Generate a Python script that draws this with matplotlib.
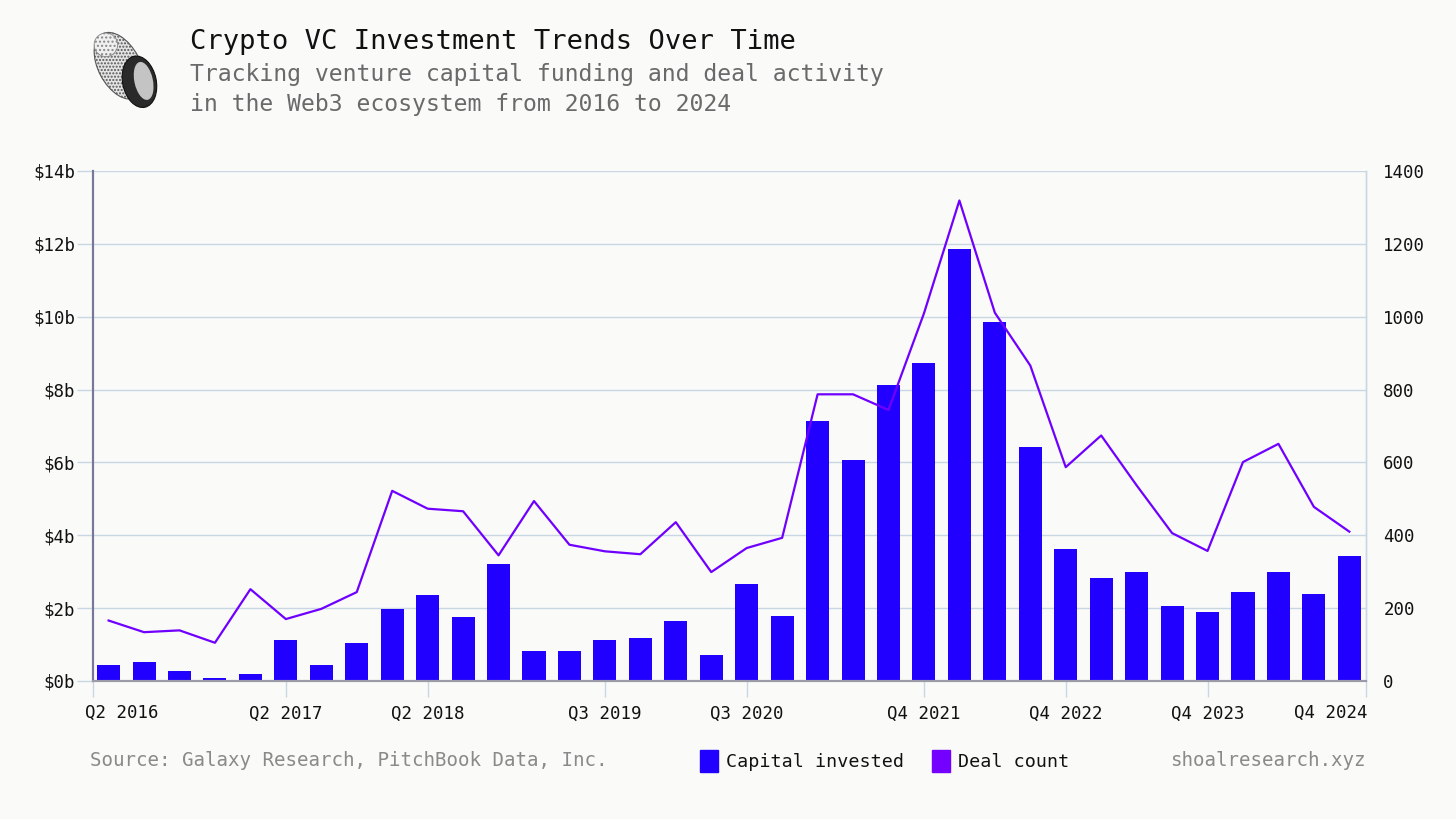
import numpy as np
import matplotlib
matplotlib.use("Agg")
import matplotlib.pyplot as plt
import matplotlib.patches as mpatches

# quarterly data, Q1 2016 .. Q4 2024
years = [2016, 2017, 2018, 2019, 2020, 2021, 2022, 2023, 2024]
quarters = [f"Q{q} {y}" for y in years for q in (1, 2, 3, 4)]

capital = [0.43, 0.51, 0.28, 0.09, 0.18, 1.13, 0.43, 1.05, 1.97, 2.35,
           1.75, 3.22, 0.81, 0.81, 1.13, 1.17, 1.65, 0.72, 2.67, 1.78,
           7.13, 6.08, 8.12, 8.72, 11.87, 9.86, 6.41, 3.63, 2.82, 2.98,
           2.07, 1.89, 2.45, 3.00, 2.40, 3.43]
deals = [166, 134, 139, 105, 252, 170, 198, 244, 522, 473,
         466, 345, 494, 374, 356, 348, 436, 299, 365, 393,
         787, 787, 744, 1009, 1319, 1011, 866, 587, 674, 537,
         406, 357, 601, 651, 478, 410]

tick_quarters = ["Q2 2017", "Q2 2018", "Q3 2019", "Q3 2020",
                 "Q4 2021", "Q4 2022", "Q4 2023"]
first_label = "Q2 2016"
last_label = "Q4 2024"

BG = "#fafaf8"
BAR = "#2200ff"
LINE = "#6f00ff"
GRID = "#c9d7e4"

plt.rcParams["font.family"] = ["DejaVu Sans Mono"]

fig = plt.figure(figsize=(14.56, 8.19), dpi=100)
fig.patch.set_facecolor(BG)

ax = fig.add_axes([93/1456, 138/819, (1366-93)/1456, (681-171)/819])
ax.set_facecolor(BG)
ax2 = ax.twinx()

x = np.arange(len(quarters))
ax.bar(x, capital, width=0.65, color=BAR, zorder=2)
ax2.plot(x, deals, color=LINE, lw=1.6, zorder=3)

xmin, xmax = -0.44, 35.47
ax.set_xlim(xmin, xmax)
ax.set_ylim(0, 14)
ax2.set_ylim(0, 1400)

ax.set_yticks(range(0, 15, 2))
ax.set_yticklabels([f"${v}b" for v in range(0, 15, 2)])
ax2.set_yticks(range(0, 1401, 200))
ax.grid(axis="y", color=GRID, lw=1, zorder=0)
ax.set_axisbelow(True)

# x ticks: edges get their own labels, drawn separately
tpos = [xmin] + [quarters.index(q) for q in tick_quarters] + [xmax]
ax.set_xticks(tpos)
ax.set_xticklabels([""] + tick_quarters + [""])
ax.annotate(first_label, xy=(xmin, 0), xycoords=ax.get_xaxis_transform(),
            xytext=(-8, -32), textcoords="offset pixels", ha="left",
            va="center", fontsize=12.5, color="#111111")
ax.annotate(last_label, xy=(xmax, 0), xycoords=ax.get_xaxis_transform(),
            xytext=(2, -32), textcoords="offset pixels", ha="right",
            va="center", fontsize=12.5, color="#111111")

ax.tick_params(axis="x", length=11.5, width=1, color=GRID, pad=6,
               labelsize=12.5, labelcolor="#111111")
ax.tick_params(axis="y", length=11.5, width=1, color=GRID, pad=1.5,
               labelsize=12.5, labelcolor="#111111")
ax2.tick_params(axis="y", length=0, pad=12.5, labelsize=12.5,
                labelcolor="#111111")

for a in (ax, ax2):
    a.spines["top"].set_visible(False)
    a.spines["left"].set_color("#77779a")
    a.spines["left"].set_linewidth(1.5)
    a.spines["bottom"].set_color("#9a9aa8")
    a.spines["bottom"].set_linewidth(1.5)
    a.spines["right"].set_color(GRID)
    a.spines["right"].set_linewidth(1)

# titles
fig.text(190/1456, 1-42/819, "Crypto VC Investment Trends Over Time",
         fontsize=19.5, color="#111111", va="center", ha="left")
fig.text(190/1456, 1-75/819, "Tracking venture capital funding and deal activity",
         fontsize=16.7, color="#6a6a6a", va="center", ha="left")
fig.text(190/1456, 1-105/819, "in the Web3 ecosystem from 2016 to 2024",
         fontsize=16.7, color="#6a6a6a", va="center", ha="left")

# footer
fig.text(90/1456, 1-761/819, "Source: Galaxy Research, PitchBook Data, Inc.",
         fontsize=13.8, color="#8a8a8a", va="center", ha="left")
fig.text(1366/1456, 1-761/819, "shoalresearch.xyz",
         fontsize=13.8, color="#8a8a8a", va="center", ha="right")

handles = [mpatches.Patch(color=BAR, label="Capital invested"),
           mpatches.Patch(color="#7400ff", label="Deal count")]
leg = fig.legend(handles=handles, loc="center left",
                 bbox_to_anchor=(683/1456, 1-761/819), ncol=2, frameon=False,
                 fontsize=13.2, handlelength=1.0, handleheight=1.4,
                 handletextpad=0.45, columnspacing=1.5)
for t in leg.get_texts():
    t.set_color("#111111")

# shell logo
lax = fig.add_axes([84/1456, 1-112/819, 84/1456, 84/819])
lax.set_xlim(0, 1)
lax.set_ylim(0, 1)
lax.set_aspect("equal")
lax.axis("off")
lax.add_patch(mpatches.Ellipse((0.42, 0.55), 0.5, 0.86, angle=28,
                               facecolor="#e4e4e4", edgecolor="#555555",
                               lw=0.8, hatch="....."))
lax.add_patch(mpatches.Ellipse((0.26, 0.8), 0.28, 0.28, angle=25,
                               facecolor="#f0f0f0", edgecolor="#888888",
                               lw=0.6, hatch="...."))
lax.add_patch(mpatches.Ellipse((0.66, 0.36), 0.4, 0.62, angle=12,
                               facecolor="#2a2a2a", edgecolor="#111111", lw=0.8))
lax.add_patch(mpatches.Ellipse((0.71, 0.37), 0.22, 0.46, angle=12,
                               facecolor="#c4c4c4", edgecolor="none",
                               hatch="...."))

fig.savefig("out.png", dpi=100, facecolor=BG)
